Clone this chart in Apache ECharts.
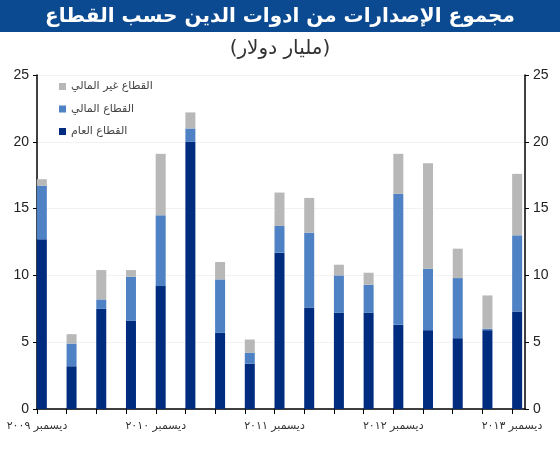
<!DOCTYPE html>
<html>
<head>
<meta charset="utf-8">
<script src="https://cdn.jsdelivr.net/npm/echarts@6/dist/echarts.min.js"></script>
<style>
  html, body { margin: 0; padding: 0; background: #fff; }
  #chart { width: 560px; height: 450px; }
</style>
</head>
<body>
<div id="chart"></div>
<script>
// ربع سنوي: من ديسمبر 2009 إلى ديسمبر 2013
var quarters = ["Q4-09", "Q1-10", "Q2-10", "Q3-10", "Q4-10", "Q1-11", "Q2-11", "Q3-11", "Q4-11",
  "Q1-12", "Q2-12", "Q3-12", "Q4-12", "Q1-13", "Q2-13", "Q3-13", "Q4-13"];
// تسميات المحور الأفقي (كل أربع علامات)
var tickLabels = ["ديسمبر ٢٠٠٩", "ديسمبر ٢٠١٠", "ديسمبر ٢٠١١", "ديسمبر ٢٠١٢", "ديسمبر ٢٠١٣"];
var yTicks = [0, 5, 10, 15, 20, 25];

// القيم بالمليار دولار
var publicSector = [12.7, 3.2, 7.5, 6.6, 9.2, 20.0, 5.7, 3.4, 11.7, 7.6, 7.2, 7.2, 6.3, 5.9, 5.3, 5.9, 7.3];
var financialSector = [4.0, 1.7, 0.7, 3.3, 5.3, 1.0, 4.0, 0.8, 2.0, 5.6, 2.8, 2.1, 9.8, 4.6, 4.5, 0.1, 5.7];
var nonFinancialSector = [0.5, 0.7, 2.2, 0.5, 4.6, 1.2, 1.3, 1.0, 2.5, 2.6, 0.8, 0.9, 3.0, 7.9, 2.2, 2.5, 4.6];

var names = ["القطاع غير المالي", "القطاع المالي", "القطاع العام"];
var arFont = "DejaVu Sans";

var chart = echarts.init(document.getElementById("chart"));

var option = {
  animation: false,
  graphic: [
    // شريط العنوان
    { type: "rect", left: 0, top: 0, z: -1, shape: { width: 560, height: 32 }, style: { fill: "#0b4a90" } }
  ],
  title: [
    {
      text: "مجموع الإصدارات من ادوات الدين حسب القطاع",
      left: "center",
      top: 2,
      textStyle: { color: "#fff", fontSize: 20, fontWeight: "bold", fontFamily: arFont }
    },
    {
      text: "(مليار دولار)",
      left: "center",
      top: 34,
      textStyle: { color: "#333", fontSize: 20, fontWeight: "normal", fontFamily: arFont }
    }
  ],
  legend: {
    data: names,
    orient: "vertical",
    left: 54,
    top: 76,
    itemWidth: 7,
    itemHeight: 7,
    itemGap: 11.5,
    icon: "rect",
    textStyle: { color: "#444", fontSize: 11, fontFamily: arFont }
  },
  grid: [
    // الأعمدة
    { left: 27, right: 28, top: 75, bottom: 41 },
    // المحاور
    { left: 37, right: 35, top: 75, bottom: 41 }
  ],
  xAxis: [
    {
      gridIndex: 0,
      type: "category",
      data: quarters,
      show: false
    },
    {
      gridIndex: 1,
      type: "value",
      min: 0,
      max: 488 / 29.6875,
      interval: 1,
      axisLine: { lineStyle: { color: "#000", width: 1.5 } },
      axisTick: { show: true, length: 5, lineStyle: { color: "#000" } },
      splitLine: { show: false },
      axisLabel: {
        color: "#333",
        fontSize: 11,
        fontFamily: arFont,
        margin: 12,
        showMaxLabel: false,
        formatter: function (v) {
          var k = Math.round(v);
          if (Math.abs(v - k) > 1e-6 || k % 4 !== 0) return "";
          return tickLabels[k / 4] || "";
        }
      }
    }
  ],
  yAxis: [
    { gridIndex: 0, type: "value", min: 0, max: 25, show: false },
    {
      gridIndex: 1,
      type: "value",
      min: yTicks[0],
      max: yTicks[yTicks.length - 1],
      interval: 5,
      position: "left",
      axisLine: { show: true, lineStyle: { color: "#000", width: 1.5 } },
      axisTick: { show: true, length: 4, lineStyle: { color: "#000" } },
      axisLabel: { color: "#222", fontSize: 14, fontFamily: "Liberation Sans", margin: 8 },
      splitLine: { show: true, lineStyle: { color: "#f2f2f2" } }
    },
    {
      gridIndex: 1,
      type: "value",
      min: yTicks[0],
      max: yTicks[yTicks.length - 1],
      interval: 5,
      position: "right",
      axisLine: { show: true, lineStyle: { color: "#000", width: 1.5 } },
      axisTick: { show: true, length: 4, lineStyle: { color: "#000" } },
      axisLabel: { color: "#222", fontSize: 14, fontFamily: "Liberation Sans", margin: 8 },
      splitLine: { show: false }
    }
  ],
  series: [
    {
      name: "القطاع العام",
      type: "bar",
      stack: "total",
      xAxisIndex: 0,
      yAxisIndex: 0,
      barWidth: 10,
      itemStyle: { color: "#002c7f" },
      data: publicSector
    },
    {
      name: "القطاع المالي",
      type: "bar",
      stack: "total",
      xAxisIndex: 0,
      yAxisIndex: 0,
      barWidth: 10,
      itemStyle: { color: "#4f82c5" },
      data: financialSector
    },
    {
      name: "القطاع غير المالي",
      type: "bar",
      stack: "total",
      xAxisIndex: 0,
      yAxisIndex: 0,
      barWidth: 10,
      itemStyle: { color: "#b8b8b8" },
      data: nonFinancialSector
    }
  ]
};

option && chart.setOption(option);
</script>
</body>
</html>
